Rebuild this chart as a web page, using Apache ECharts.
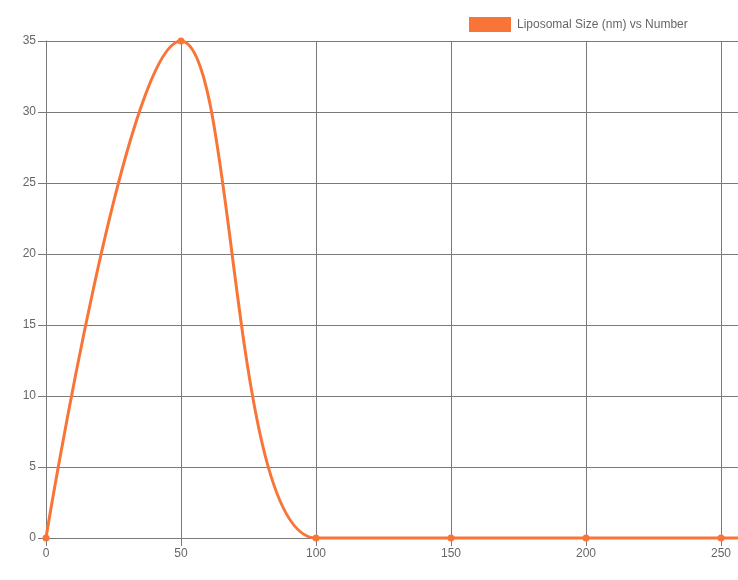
<!DOCTYPE html>
<html>
<head>
<meta charset="utf-8">
<script src="https://cdn.jsdelivr.net/npm/echarts@6/dist/echarts.min.js"></script>
<style>
  html, body { margin: 0; padding: 0; background: #fff; overflow: hidden; }
  /* the original canvas is wider than the window, so the right part is cut off */
  #chart { width: 856px; height: 580px; }
</style>
</head>
<body>
<div id="chart"></div>
<script>
// 粒径 (nm) 与数量
const sizes = [0, 50, 100, 150, 200, 250, 300]
const numbers = [0, 35, 0, 0, 0, 0, 0]
const seriesName = 'Liposomal Size (nm) vs Number'

const lineColor = '#f87537'
const gridColor = '#7a7a7a'
const labelColor = '#666'

const myChart = echarts.init(document.getElementById('chart'))

const option = {
  animation: false,
  textStyle: { fontFamily: 'Liberation Sans, Arial, sans-serif' },
  legend: {
    left: 469,
    top: 17,
    padding: 0,
    itemWidth: 42,
    itemHeight: 15,
    itemGap: 10,
    icon: 'rect',
    textStyle: { color: labelColor, fontSize: 12, padding: [2, 0, 0, 1] },
    data: [seriesName]
  },
  grid: {
    left: 46,
    right: 0,
    top: 41,
    bottom: 42,
    containLabel: false,
    outerBoundsMode: 'none'
  },
  xAxis: {
    type: 'value',
    min: 0,
    max: 300,
    interval: 50,
    axisLine: { show: true, onZero: false, lineStyle: { color: gridColor, width: 1 } },
    axisTick: { show: true, length: 8, lineStyle: { color: gridColor } },
    axisLabel: { color: labelColor, fontSize: 12, margin: 10 },
    splitLine: { show: true, lineStyle: { color: gridColor, width: 1 } }
  },
  yAxis: {
    type: 'value',
    min: 0,
    max: 35,
    interval: 5,
    axisLine: { show: true, lineStyle: { color: gridColor, width: 1 } },
    axisTick: { show: true, length: 8, lineStyle: { color: gridColor } },
    axisLabel: { color: labelColor, fontSize: 12, margin: 10 },
    splitLine: { show: true, lineStyle: { color: gridColor, width: 1 } }
  },
  series: [{
    name: seriesName,
    type: 'line',
    data: sizes.map((s, i) => [s, numbers[i]]),
    smooth: 0.4,
    symbol: 'circle',
    symbolSize: 7,
    showAllSymbol: true,
    lineStyle: { color: lineColor, width: 3 },
    itemStyle: { color: lineColor },
    clip: false
  }]
}

myChart.setOption(option)
</script>
</body>
</html>
